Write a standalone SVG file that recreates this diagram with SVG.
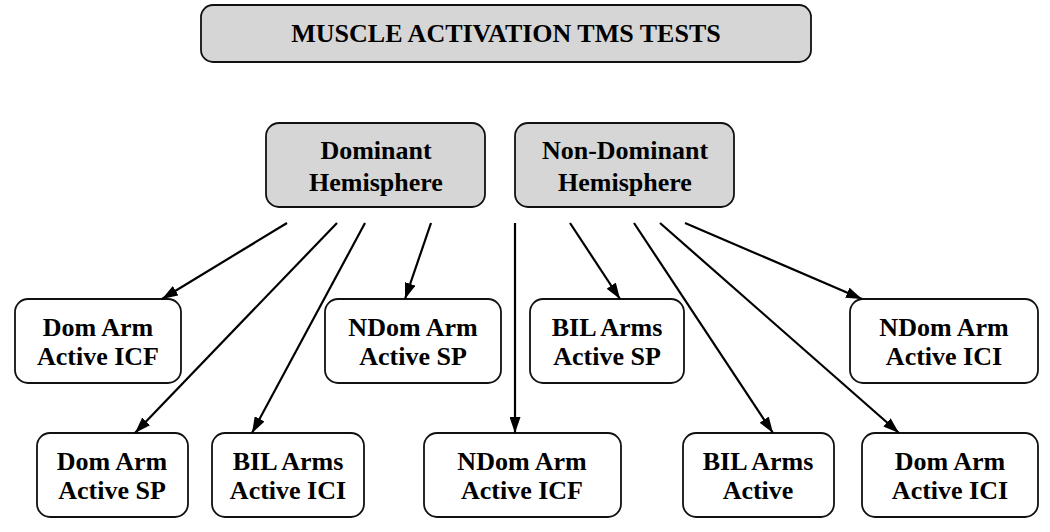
<svg xmlns="http://www.w3.org/2000/svg" width="1050" height="532" viewBox="0 0 1050 532">
<style>
.box{fill:#fff;stroke:#111;stroke-width:1.8}
.gray{fill:#d6d6d6}
.t{font-family:"Liberation Serif","Times New Roman",serif;font-weight:bold;font-size:26px;fill:#000;text-anchor:middle}
.c{stroke:#000;stroke-width:2.2;fill:none;marker-end:url(#ah)}
</style>
<defs>
<marker id="ah" viewBox="0 0 16 11" refX="16" refY="5.5" markerWidth="16" markerHeight="11" markerUnits="userSpaceOnUse" orient="auto">
<path d="M0,0 L16,5.5 L0,11 Z" fill="#000"/>
</marker>
</defs>
<rect width="1050" height="532" fill="#fff"/>
<g id="title"><rect class="box gray" x="201" y="5" width="610" height="57" rx="12"/><text class="t" x="506" y="42">MUSCLE ACTIVATION TMS TESTS</text></g>
<g id="dominant"><rect class="box gray" x="266" y="123" width="219" height="84" rx="13"/><text class="t" x="376" y="159">Dominant</text><text class="t" x="376" y="191">Hemisphere</text></g>
<g id="nondominant"><rect class="box gray" x="515" y="123" width="219" height="84" rx="13"/><text class="t" x="625" y="159">Non-Dominant</text><text class="t" x="625" y="191">Hemisphere</text></g>
<g id="domICF"><rect class="box" x="15" y="299" width="166" height="84" rx="13"/><text class="t" x="98" y="336">Dom Arm</text><text class="t" x="98" y="365">Active ICF</text></g>
<g id="ndomSP"><rect class="box" x="325" y="299" width="176" height="84" rx="13"/><text class="t" x="413" y="336">NDom Arm</text><text class="t" x="413" y="365">Active SP</text></g>
<g id="bilSP"><rect class="box" x="530" y="299" width="154" height="84" rx="13"/><text class="t" x="607" y="336">BIL Arms</text><text class="t" x="607" y="365">Active SP</text></g>
<g id="ndomICI"><rect class="box" x="850" y="299" width="188" height="84" rx="13"/><text class="t" x="944" y="336">NDom Arm</text><text class="t" x="944" y="365">Active ICI</text></g>
<g id="domSP"><rect class="box" x="37" y="433" width="151" height="84" rx="13"/><text class="t" x="112" y="470">Dom Arm</text><text class="t" x="112" y="499">Active SP</text></g>
<g id="bilICI"><rect class="box" x="212" y="433" width="152" height="84" rx="13"/><text class="t" x="288" y="470">BIL Arms</text><text class="t" x="288" y="499">Active ICI</text></g>
<g id="ndomICF"><rect class="box" x="424" y="433" width="197" height="84" rx="13"/><text class="t" x="522" y="470">NDom Arm</text><text class="t" x="522" y="499">Active ICF</text></g>
<g id="bilActive"><rect class="box" x="683" y="433" width="151" height="84" rx="13"/><text class="t" x="758" y="470">BIL Arms</text><text class="t" x="758" y="499">Active</text></g>
<g id="domICI"><rect class="box" x="862" y="433" width="176" height="84" rx="13"/><text class="t" x="950" y="470">Dom Arm</text><text class="t" x="950" y="499">Active ICI</text></g>
<g id="connectors">
<line class="c" x1="287" y1="223" x2="162" y2="299"/>
<line class="c" x1="337" y1="223" x2="135" y2="433"/>
<line class="c" x1="365" y1="223" x2="252" y2="433"/>
<line class="c" x1="431" y1="223" x2="405" y2="299"/>
<line class="c" x1="515" y1="223" x2="515" y2="433"/>
<line class="c" x1="570" y1="223" x2="620" y2="299"/>
<line class="c" x1="634" y1="223" x2="773" y2="433"/>
<line class="c" x1="660" y1="223" x2="899" y2="433"/>
<line class="c" x1="685" y1="223" x2="862" y2="299"/>
</g>
</svg>
